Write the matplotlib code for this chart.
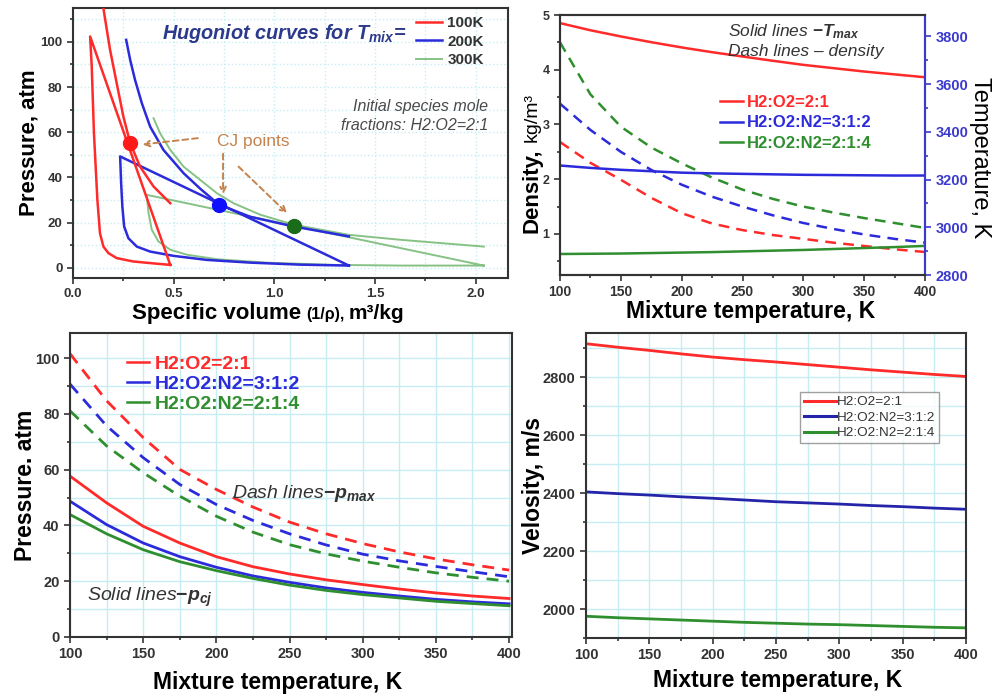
import matplotlib
matplotlib.use("Agg")
import matplotlib.pyplot as plt
from matplotlib.lines import Line2D
from matplotlib.transforms import IdentityTransform
from matplotlib.ticker import MultipleLocator

plt.rcParams['font.family'] = ['Liberation Sans', 'DejaVu Sans']
plt.rcParams['mathtext.fontset'] = 'custom'
plt.rcParams['mathtext.rm'] = 'Liberation Sans:bold'
plt.rcParams['mathtext.it'] = 'Liberation Sans:bold:italic'
plt.rcParams['mathtext.bf'] = 'Liberation Sans:bold'

# ---------------- data ----------------
# Panel 1: Hugoniot curves (specific volume m3/kg, pressure atm)
hug100_v = [0.151, 0.168, 0.184, 0.217, 0.250, 0.284, 0.333, 0.400, 0.483]
hug100_p = [114.9, 105.3, 96.5, 81.7, 67.0, 55.2, 44.8, 36.0, 28.6]
loop100_v = [0.483, 0.085, 0.093, 0.104, 0.121, 0.134, 0.151, 0.176, 0.217, 0.300, 0.383, 0.483]
loop100_p = [1.3, 102.4, 89.1, 59.6, 30.1, 15.3, 9.4, 6.5, 4.3, 2.8, 2.1, 1.3]

hug200_v = [0.264, 0.284, 0.308, 0.342, 0.383, 0.449, 0.549, 0.632, 0.726, 0.880, 1.096, 1.370]
hug200_p = [100.9, 92.0, 83.2, 72.8, 62.5, 52.2, 41.9, 35.0, 27.9, 22.6, 18.3, 13.9]
loop200_v = [1.370, 0.234, 0.239, 0.245, 0.254, 0.275, 0.317, 0.383, 0.499, 0.665, 0.881, 1.130, 1.370]
loop200_p = [1.0, 49.3, 37.5, 27.2, 18.3, 13.1, 9.4, 7.2, 5.3, 3.5, 2.3, 1.4, 1.0]

hug300_v = [0.400, 0.433, 0.483, 0.549, 0.632, 0.715, 0.797, 0.930, 1.096, 1.370, 1.627, 2.040]
hug300_p = [66.2, 59.5, 52.2, 44.8, 38.9, 33.0, 28.6, 23.5, 19.1, 14.6, 12.4, 9.4]
loop300_v = [2.040, 0.366, 0.375, 0.391, 0.424, 0.483, 0.566, 0.715, 0.963, 1.295, 1.627, 2.040]
loop300_p = [1.0, 32.3, 24.3, 16.9, 11.7, 8.0, 5.8, 3.8, 2.3, 1.3, 1.0, 1.0]

cj_v = [0.284, 0.726, 1.096]
cj_p = [55.2, 27.9, 18.3]

# Mixture temperature axis, K
tmix = [100, 125, 150, 175, 200, 225, 250, 275, 300, 325, 350, 375, 400]
mix_labels = ['H2:O2=2:1', 'H2:O2:N2=3:1:2', 'H2:O2:N2=2:1:4']

# Panel 2: T_max (K, right axis) and density (kg/m3, left axis)
tmax_a = [3856, 3826, 3800, 3776, 3754, 3734, 3716, 3698, 3681, 3667, 3653, 3641, 3629]
tmax_b = [3259, 3249, 3241, 3235, 3229, 3226, 3224, 3222, 3220, 3219, 3218, 3217, 3217]
tmax_c = [2888, 2889, 2890, 2892, 2894, 2896, 2899, 2902, 2905, 2909, 2913, 2917, 2922]
rho_a = [2.68, 2.30, 1.99, 1.66, 1.38, 1.19, 1.07, 0.98, 0.91, 0.84, 0.78, 0.72, 0.67]
rho_b = [3.38, 2.90, 2.50, 2.17, 1.90, 1.68, 1.50, 1.34, 1.20, 1.09, 0.99, 0.91, 0.84]
rho_c = [4.50, 3.55, 2.96, 2.58, 2.29, 2.03, 1.81, 1.64, 1.50, 1.39, 1.29, 1.20, 1.11]

# Panel 3: pressures, atm
pmax_a = [101.6, 84.7, 71.5, 60.1, 52.9, 46.6, 41.2, 37.0, 33.5, 30.5, 28.0, 25.9, 24.0]
pmax_b = [90.7, 75.7, 64.3, 54.7, 47.5, 41.8, 37.0, 33.0, 29.7, 27.3, 25.3, 23.4, 21.6]
pmax_c = [81.1, 68.5, 58.9, 50.5, 43.3, 37.6, 33.1, 29.8, 27.2, 25.0, 23.0, 21.4, 20.0]
pcj_a = [57.7, 48.1, 39.7, 33.7, 28.8, 25.2, 22.6, 20.5, 18.8, 17.2, 15.8, 14.7, 13.8]
pcj_b = [48.7, 40.3, 33.7, 28.8, 25.0, 21.9, 19.6, 17.6, 16.0, 14.7, 13.5, 12.6, 11.9]
pcj_c = [43.9, 37.0, 31.3, 27.0, 23.8, 21.0, 18.6, 16.7, 15.2, 14.0, 12.8, 12.0, 11.2]

# Panel 4: detonation velocity, m/s
vel_a = [2915, 2903, 2892, 2880, 2869, 2860, 2852, 2843, 2834, 2825, 2817, 2809, 2802]
vel_b = [2404, 2398, 2393, 2387, 2382, 2376, 2370, 2366, 2362, 2357, 2353, 2348, 2344]
vel_c = [1975, 1970, 1966, 1962, 1958, 1954, 1951, 1948, 1946, 1943, 1940, 1937, 1935]

# ---------------- styling ----------------
RED = '#ff2a2a'
BLUE = '#2b2bdc'
GREEN = '#2f8f2f'
LGREEN = '#86c286'
GRID = '#c6eef2'
TICKC = '#333333'
DASH = (4.3, 2.9)

W, H = 998, 700
fig = plt.figure(figsize=(W / 100, H / 100), dpi=100)


def axrect(l, t, r, b):
    return [l / W, (H - b) / H, (r - l) / W, (b - t) / H]


def style(ax, xsize=10, ysize=10):
    for s in ax.spines.values():
        s.set_color('#333333')
        s.set_linewidth(1.5)
    ax.tick_params(which='both', direction='out', colors=TICKC, width=1.2)
    ax.tick_params(which='major', length=4)
    ax.tick_params(which='minor', length=2.5)
    ax.tick_params(axis='x', labelsize=xsize)
    ax.tick_params(axis='y', labelsize=ysize)
    for lab in ax.get_xticklabels() + ax.get_yticklabels():
        lab.set_fontweight('bold')


def px(x, y):
    return (x, H - y)


# ================= Panel 1 =================
ax1 = fig.add_axes(axrect(73, 8, 508, 278))
ax1.plot(loop300_v, loop300_p, color=LGREEN, lw=1.4, zorder=2)
ax1.plot(hug300_v, hug300_p, color=LGREEN, lw=1.4, zorder=2)
ax1.plot(loop200_v, loop200_p, color=BLUE, lw=1.8, zorder=3)
ax1.plot(hug200_v, hug200_p, color=BLUE, lw=1.8, zorder=3)
ax1.plot(loop100_v, loop100_p, color=RED, lw=1.8, zorder=4)
ax1.plot(hug100_v, hug100_p, color=RED, lw=1.8, zorder=4)
for v, p, c in zip(cj_v, cj_p, ['#ff1a1a', '#1010ff', '#1a6b1a']):
    ax1.plot([v], [p], marker='o', ms=10, color=c, mec=c, zorder=6)
ax1.set_xlim(0, 2.16)
ax1.set_ylim(-4.5, 115)
ax1.xaxis.set_major_locator(MultipleLocator(0.5))
ax1.xaxis.set_minor_locator(MultipleLocator(0.25))
ax1.yaxis.set_major_locator(MultipleLocator(20))
ax1.yaxis.set_minor_locator(MultipleLocator(10))
ax1.grid(which='both', color=GRID, ls=':', lw=1.0)
ax1.set_axisbelow(True)
ax1.set_xticks([0, 0.5, 1.0, 1.5, 2.0])
ax1.set_xticklabels(['0.0', '0.5', '1.0', '1.5', '2.0'])
style(ax1, 9.5, 9.5)
ax1.set_ylabel('Pressure, atm', fontsize=16, fontweight='bold')
ax1.yaxis.set_label_coords((40 - 73) / 435, 0.5)

hand1 = [Line2D([], [], color=RED, lw=1.8), Line2D([], [], color=BLUE, lw=1.8),
         Line2D([], [], color=LGREEN, lw=1.4)]
leg1 = ax1.legend(hand1, ['100K', '200K', '300K'], loc='upper right',
                  bbox_to_anchor=px(484, 16), bbox_transform=IdentityTransform(),
                  frameon=False, borderpad=0, borderaxespad=0, labelspacing=0.3,
                  handlelength=1.7, handletextpad=0.35,
                  prop={'size': 11, 'weight': 'bold'})
for t in leg1.get_texts():
    t.set_color('#333333')

ax1.text(0.205, 0.905, r'Hugoniot curves for $T_{mix}$=', transform=ax1.transAxes,
         fontsize=14.3, fontweight='bold', fontstyle='italic', color='#2b3a8c',
         ha='left', va='center')
ax1.text(0.955, 0.600, 'Initial species mole\nfractions: H2:O2=2:1', transform=ax1.transAxes,
         fontsize=11.5, fontstyle='italic', color='#4a4a4a', ha='right', va='center',
         linespacing=1.3)
BROWN = '#c4834f'
ax1.text(0.715, 56.0, 'CJ points', fontsize=12.5, color=BROWN, ha='left', va='center')
arrowkw = dict(arrowstyle='->', linestyle=(0, (3, 2)), color=BROWN, lw=1.4,
               shrinkA=0, shrinkB=0)
ax1.annotate('', xy=(0.345, 54.6), xytext=(0.62, 57.4), arrowprops=arrowkw)
ax1.annotate('', xy=(0.745, 32.5), xytext=(0.745, 50.5), arrowprops=arrowkw)
ax1.annotate('', xy=(1.063, 24.2), xytext=(0.822, 44.8), arrowprops=arrowkw)

# ================= Panel 2 =================
ax2 = fig.add_axes(axrect(560, 15, 925, 275))
ax2.plot(tmix, rho_a, color=RED, lw=1.8, dashes=DASH)
ax2.plot(tmix, rho_b, color=BLUE, lw=1.8, dashes=DASH)
ax2.plot(tmix, rho_c, color=GREEN, lw=1.8, dashes=DASH)
ax2.set_xlim(100, 400)
ax2.set_ylim(0.25, 5)
ax2.xaxis.set_major_locator(MultipleLocator(50))
ax2.xaxis.set_minor_locator(MultipleLocator(25))
ax2.yaxis.set_major_locator(MultipleLocator(1))
ax2.yaxis.set_minor_locator(MultipleLocator(0.5))
style(ax2, 10, 9)
ax2.set_xlabel('Mixture temperature, K', fontsize=16.5, fontweight='bold')
ax2.xaxis.set_label_coords((751 - 560) / 365, (275 - 300) / 260)

ax2r = ax2.twinx()
ax2r.plot(tmix, tmax_a, color=RED, lw=1.8)
ax2r.plot(tmix, tmax_b, color=BLUE, lw=1.8)
ax2r.plot(tmix, tmax_c, color=GREEN, lw=1.8)
ax2r.set_ylim(2800, 3890)
ax2r.yaxis.set_major_locator(MultipleLocator(200))
ax2r.yaxis.set_minor_locator(MultipleLocator(100))
style(ax2r, 10, 10.5)
ax2r.spines['right'].set_color('#3a3ad0')
ax2r.tick_params(axis='y', which='both', colors='#3a3ad0')
ax2r.set_ylabel('Temperature, K', fontsize=17, rotation=-90, va='bottom')
ax2r.yaxis.set_label_coords((969 - 560) / 365, (275 - 158) / 260)

hand2 = [Line2D([], [], color=RED, lw=1.8), Line2D([], [], color=BLUE, lw=1.8),
         Line2D([], [], color=GREEN, lw=1.8)]
leg2 = ax2r.legend(hand2, mix_labels, loc='upper left',
                   bbox_to_anchor=px(720, 95), bbox_transform=IdentityTransform(),
                   frameon=False, borderpad=0, borderaxespad=0, labelspacing=0.32,
                   handlelength=1.35, handletextpad=0.25,
                   prop={'size': 12, 'weight': 'bold'})
for t, c in zip(leg2.get_texts(), [RED, BLUE, GREEN]):
    t.set_color(c)
ax2r.text(0.46, 0.935, r'Solid lines $-$$T_{max}$', transform=ax2.transAxes,
          fontsize=12.5, fontstyle='italic', color='#333333', ha='left', va='center')
ax2r.text(0.46, 0.86, 'Dash lines – density', transform=ax2.transAxes,
          fontsize=12.5, fontstyle='italic', color='#333333', ha='left', va='center')

# ================= Panel 3 =================
ax3 = fig.add_axes(axrect(70, 333, 512, 637))
ax3.plot(tmix, pmax_a, color=RED, lw=2.0, dashes=DASH)
ax3.plot(tmix, pmax_b, color=BLUE, lw=2.0, dashes=DASH)
ax3.plot(tmix, pmax_c, color=GREEN, lw=2.0, dashes=DASH)
ax3.plot(tmix, pcj_a, color=RED, lw=2.0)
ax3.plot(tmix, pcj_b, color=BLUE, lw=2.0)
ax3.plot(tmix, pcj_c, color=GREEN, lw=2.0)
ax3.set_xlim(100, 402)
ax3.set_ylim(0, 109)
ax3.xaxis.set_major_locator(MultipleLocator(50))
ax3.xaxis.set_minor_locator(MultipleLocator(25))
ax3.yaxis.set_major_locator(MultipleLocator(20))
ax3.yaxis.set_minor_locator(MultipleLocator(10))
ax3.grid(which='both', color=GRID, lw=1.0)
ax3.set_axisbelow(True)
style(ax3, 10.5, 10.5)
ax3.set_xlabel('Mixture temperature, K', fontsize=16.5, fontweight='bold')
ax3.xaxis.set_label_coords((278 - 70) / 442, (637 - 671) / 304)
ax3.set_ylabel('Pressure. atm', fontsize=16.5, fontweight='bold')
ax3.yaxis.set_label_coords((37 - 70) / 442, 0.5)
leg3 = ax3.legend(hand2, mix_labels, loc='upper left',
                  bbox_to_anchor=px(127, 355), bbox_transform=IdentityTransform(),
                  frameon=False, borderpad=0, borderaxespad=0, labelspacing=0.13,
                  handlelength=1.15, handletextpad=0.3,
                  prop={'size': 14, 'weight': 'bold'})
for t, c in zip(leg3.get_texts(), [RED, BLUE, GREEN]):
    t.set_color(c)
fig.text(232, H - 493, r'Dash lines$-$$p_{max}$', transform=IdentityTransform(),
         fontsize=14, fontstyle='italic', color='#333333', ha='left', va='center')
fig.text(87, H - 597, r'Solid lines$-$$p_{cj}$', transform=IdentityTransform(),
         fontsize=14, fontstyle='italic', color='#333333', ha='left', va='center')

# ================= Panel 4 =================
ax4 = fig.add_axes(axrect(586, 333, 966, 638))
ax4.plot(tmix, vel_a, color=RED, lw=2.0)
ax4.plot(tmix, vel_b, color='#2424a8', lw=2.0)
ax4.plot(tmix, vel_c, color=GREEN, lw=2.0)
ax4.set_xlim(100, 400)
ax4.set_ylim(1900, 2952)
ax4.xaxis.set_major_locator(MultipleLocator(50))
ax4.xaxis.set_minor_locator(MultipleLocator(25))
ax4.yaxis.set_major_locator(MultipleLocator(200))
ax4.yaxis.set_minor_locator(MultipleLocator(100))
ax4.grid(which='both', color=GRID, lw=1.0)
ax4.set_axisbelow(True)
style(ax4, 10.5, 10.5)
ax4.set_xlabel('Mixture temperature, K', fontsize=16.5, fontweight='bold')
ax4.xaxis.set_label_coords((778 - 586) / 380, (638 - 669) / 305)
ax4.set_ylabel('Velosity, m/s', fontsize=16.5, fontweight='bold')
ax4.yaxis.set_label_coords((545 - 586) / 380, 0.5)
hand4 = [Line2D([], [], color=RED, lw=2.2), Line2D([], [], color='#2424a8', lw=2.2),
         Line2D([], [], color=GREEN, lw=2.2)]
leg4 = ax4.legend(hand4, mix_labels, loc='upper left',
                  bbox_to_anchor=px(800, 392), bbox_transform=IdentityTransform(),
                  frameon=True, fancybox=False, borderpad=0.3, borderaxespad=0,
                  labelspacing=0.22, handlelength=2.4, handletextpad=0.0,
                  prop={'size': 9.7})
leg4.get_frame().set_edgecolor('#888888')
leg4.get_frame().set_linewidth(1.0)
for t in leg4.get_texts():
    t.set_color('#333333')

# ---- composite labels (mixed font sizes) ----
renderer = fig.canvas.get_renderer()


def chain(x0, y0, parts):
    pos = x0
    for s, kw, gap in parts:
        t = fig.text(pos, H - y0, s, transform=IdentityTransform(), ha='left',
                     va='baseline', rotation_mode='anchor', **kw)
        pos += t.get_window_extent(renderer).width + gap


chain(132, 319, [('Specific volume', dict(fontsize=16, fontweight='bold'), 5),
                 ('(1/ρ),', dict(fontsize=11.5, fontweight='bold'), 4),
                 ('m³/kg', dict(fontsize=15, fontweight='bold'), 0)])

# rotated density label: baseline x=537, starting at y=233 going up
dens_x = 537
ypos = 233
t1 = fig.text(dens_x, H - ypos, 'Density,', transform=IdentityTransform(), ha='left',
              va='baseline', rotation=90, rotation_mode='anchor', fontsize=16,
              fontweight='bold')
h1 = t1.get_window_extent(renderer).height
fig.text(dens_x, H - ypos + h1 + 6, 'kg/m³', transform=IdentityTransform(), ha='left',
         va='baseline', rotation=90, rotation_mode='anchor', fontsize=14)

fig.savefig('out.png', dpi=100)
